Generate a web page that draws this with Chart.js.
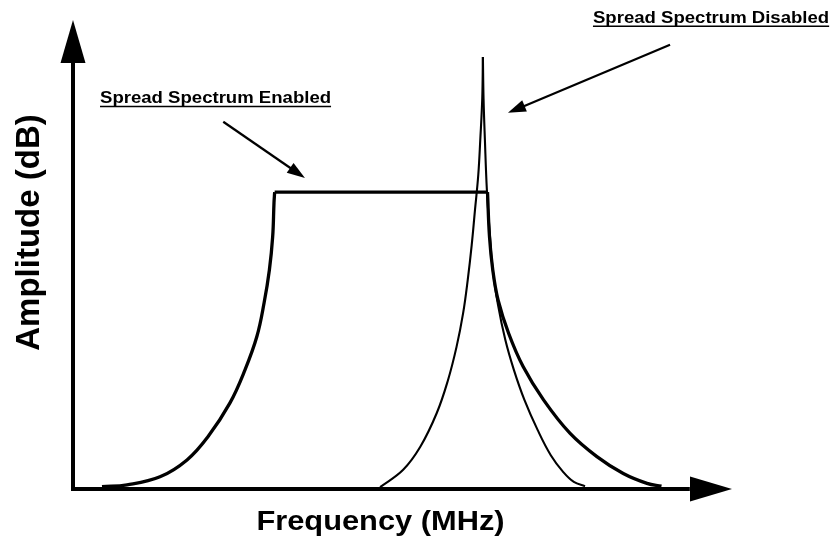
<!DOCTYPE html>
<html>
<head>
<meta charset="utf-8">
<title>Spread Spectrum</title>
<script src="https://cdn.jsdelivr.net/npm/chart.js@4.4.1/dist/chart.umd.min.js"></script>
<style>
  html, body { margin: 0; padding: 0; background: #fff; }
  #wrap { width: 834px; height: 542px; }
</style>
</head>
<body>
<div id="wrap"><canvas id="spectrum"></canvas></div>
<script>
// arbitrary units: frequency 0..100 across, amplitude 0..100 up

// spread spectrum enabled (thick): left flank, flat top, right flank
const enabledLeftFreq = [4.4, 8.2, 13.2, 17.3, 20.5, 23.8, 26.1, 27.9, 29.0, 29.8, 30.3, 30.5, 30.6];
const enabledLeftAmp  = [0.5, 0.9, 2.6, 6.2, 11.2, 18.3, 25.4, 32.5, 39.7, 46.7, 53.8, 61.0, 63.3];
const enabledTopFreq  = [30.6, 62.9];
const enabledTopAmp   = [63.3, 63.3];
const enabledRightFreq = [62.9, 63.2, 63.7, 64.5, 66.1, 68.3, 71.4, 75.4, 79.5, 83.5, 87.1, 89.3];
const enabledRightAmp  = [63.3, 53.8, 46.7, 40.3, 33.2, 26.1, 19.0, 11.9, 6.9, 3.3, 1.2, 0.6];

// spread spectrum disabled (thin): one narrow peak
const disabledLeftFreq = [46.6, 50.1, 52.7, 55.2, 56.9, 58.2, 59.2, 59.9, 60.5, 61.0, 61.5, 61.8, 62.1, 62.2];
const disabledLeftAmp  = [0.4, 4.1, 9.0, 16.2, 23.2, 30.3, 37.5, 44.6, 52.0, 59.5, 67.0, 74.4, 83.2, 92.1];
const disabledRightFreq = [62.2, 62.3, 62.5, 62.8, 63.2, 63.7, 64.5, 65.6, 66.9, 68.5, 70.5, 72.5, 74.4, 76.0, 77.7];
const disabledRightAmp  = [92.1, 83.2, 74.6, 63.9, 55.4, 46.7, 39.2, 31.8, 25.4, 19.0, 12.6, 7.2, 3.6, 1.5, 0.6];

const xTitle = 'Frequency (MHz)';
const yTitle = 'Amplitude (dB)';

// callouts: label anchor and arrow (from -> tip), in data units
const callouts = [
    { text: 'Spread Spectrum Enabled', at: [4.1, 82.3], from: [22.8, 78.3], to: [35.2, 66.3] },
    { text: 'Spread Spectrum Disabled', at: [78.9, 99.4], from: [90.6, 94.7], to: [66.0, 80.2] }
];

function toPoints(xs, ys) {
    return xs.map((x, i) => ({ x: x, y: ys[i] }));
}

function curve(xs, ys, width, tension) {
    return {
        data: toPoints(xs, ys),
        borderColor: '#000',
        borderWidth: width,
        borderCapStyle: 'butt',
        borderJoinStyle: 'miter',
        pointRadius: 0,
        fill: false,
        clip: false,
        tension: tension
    };
}

function arrowHead(ctx, x1, y1, x2, y2, len, half) {
    const a = Math.atan2(y2 - y1, x2 - x1);
    ctx.beginPath();
    ctx.moveTo(x2, y2);
    ctx.lineTo(x2 - len * Math.cos(a) + half * Math.sin(a), y2 - len * Math.sin(a) - half * Math.cos(a));
    ctx.lineTo(x2 - len * Math.cos(a) - half * Math.sin(a), y2 - len * Math.sin(a) + half * Math.cos(a));
    ctx.closePath();
    ctx.fill();
}

// text a bit wider than the plain font, like the original drawing
function stretchedText(ctx, text, x, y, font, sx, rot, align) {
    ctx.save();
    ctx.translate(x, y);
    if (rot) ctx.rotate(rot);
    ctx.scale(sx, 1);
    ctx.font = font;
    ctx.textAlign = align || 'left';
    ctx.fillText(text, 0, 0);
    const w = ctx.measureText(text).width;
    ctx.restore();
    return w * sx;
}

const axesPlugin = {
    id: 'axesArrows',
    beforeDatasetsDraw(chart) {
        const ctx = chart.ctx;
        const xs = chart.scales.x, ys = chart.scales.y;
        const x0 = xs.getPixelForValue(0), y0 = ys.getPixelForValue(0);
        ctx.save();
        ctx.fillStyle = '#000';
        ctx.strokeStyle = '#000';
        ctx.lineWidth = 4;
        ctx.lineCap = 'butt';
        // y axis
        ctx.beginPath();
        ctx.moveTo(x0, y0 + 2);
        ctx.lineTo(x0, ys.getPixelForValue(91));
        ctx.stroke();
        arrowHead(ctx, x0, y0, x0, ys.getPixelForValue(100), 43, 12.5);
        // x axis
        ctx.beginPath();
        ctx.moveTo(x0 - 2, y0);
        ctx.lineTo(xs.getPixelForValue(93.6), y0);
        ctx.stroke();
        arrowHead(ctx, x0, y0, xs.getPixelForValue(100), y0, 42, 12.5);
        ctx.restore();
    },
    afterDraw(chart) {
        const ctx = chart.ctx;
        const xs = chart.scales.x, ys = chart.scales.y;
        ctx.save();
        ctx.fillStyle = '#000';
        ctx.strokeStyle = '#000';
        ctx.textBaseline = 'alphabetic';

        // axis titles
        stretchedText(ctx, xTitle, (xs.left + 690) / 2 - 1, 530, 'bold 28px "Liberation Sans", Arial, sans-serif', 1.1, 0, 'center');
        ctx.textBaseline = 'middle';
        stretchedText(ctx, yTitle, 30, (ys.top + ys.bottom) / 2 - 22, 'bold 33px "Liberation Sans", Arial, sans-serif', 1.0, -Math.PI / 2, 'center');
        ctx.textBaseline = 'alphabetic';

        // callouts
        callouts.forEach(c => {
            const tx = xs.getPixelForValue(c.at[0]), ty = ys.getPixelForValue(c.at[1]);
            const w = stretchedText(ctx, c.text, tx, ty, 'bold 16px "Liberation Sans", Arial, sans-serif', 1.16, 0, 'left');
            ctx.lineWidth = 1.6;
            ctx.beginPath();
            ctx.moveTo(tx, ty + 3.5);
            ctx.lineTo(tx + w, ty + 3.5);
            ctx.stroke();

            const fx = xs.getPixelForValue(c.from[0]), fy = ys.getPixelForValue(c.from[1]);
            const px = xs.getPixelForValue(c.to[0]), py = ys.getPixelForValue(c.to[1]);
            const a = Math.atan2(py - fy, px - fx);
            ctx.lineWidth = 2.2;
            ctx.beginPath();
            ctx.moveTo(fx, fy);
            ctx.lineTo(px - 12 * Math.cos(a), py - 12 * Math.sin(a));
            ctx.stroke();
            arrowHead(ctx, fx, fy, px, py, 18, 6);
        });
        ctx.restore();
    }
};

new Chart(document.getElementById('spectrum'), {
    type: 'line',
    data: {
        datasets: [
            curve(enabledLeftFreq, enabledLeftAmp, 3.3, 0.4),
            curve(enabledTopFreq, enabledTopAmp, 3.3, 0),
            curve(enabledRightFreq, enabledRightAmp, 3.3, 0.4),
            curve(disabledLeftFreq, disabledLeftAmp, 2.1, 0.4),
            curve(disabledRightFreq, disabledRightAmp, 2.1, 0.4)
        ]
    },
    options: {
        responsive: true,
        maintainAspectRatio: false,
        animation: false,
        layout: { padding: { left: 73, right: 102, top: 20, bottom: 53 } },
        plugins: { legend: { display: false }, tooltip: { enabled: false } },
        scales: {
            x: { type: 'linear', min: 0, max: 100, display: false },
            y: { type: 'linear', min: 0, max: 100, display: false }
        }
    },
    plugins: [axesPlugin]
});
</script>
</body>
</html>
